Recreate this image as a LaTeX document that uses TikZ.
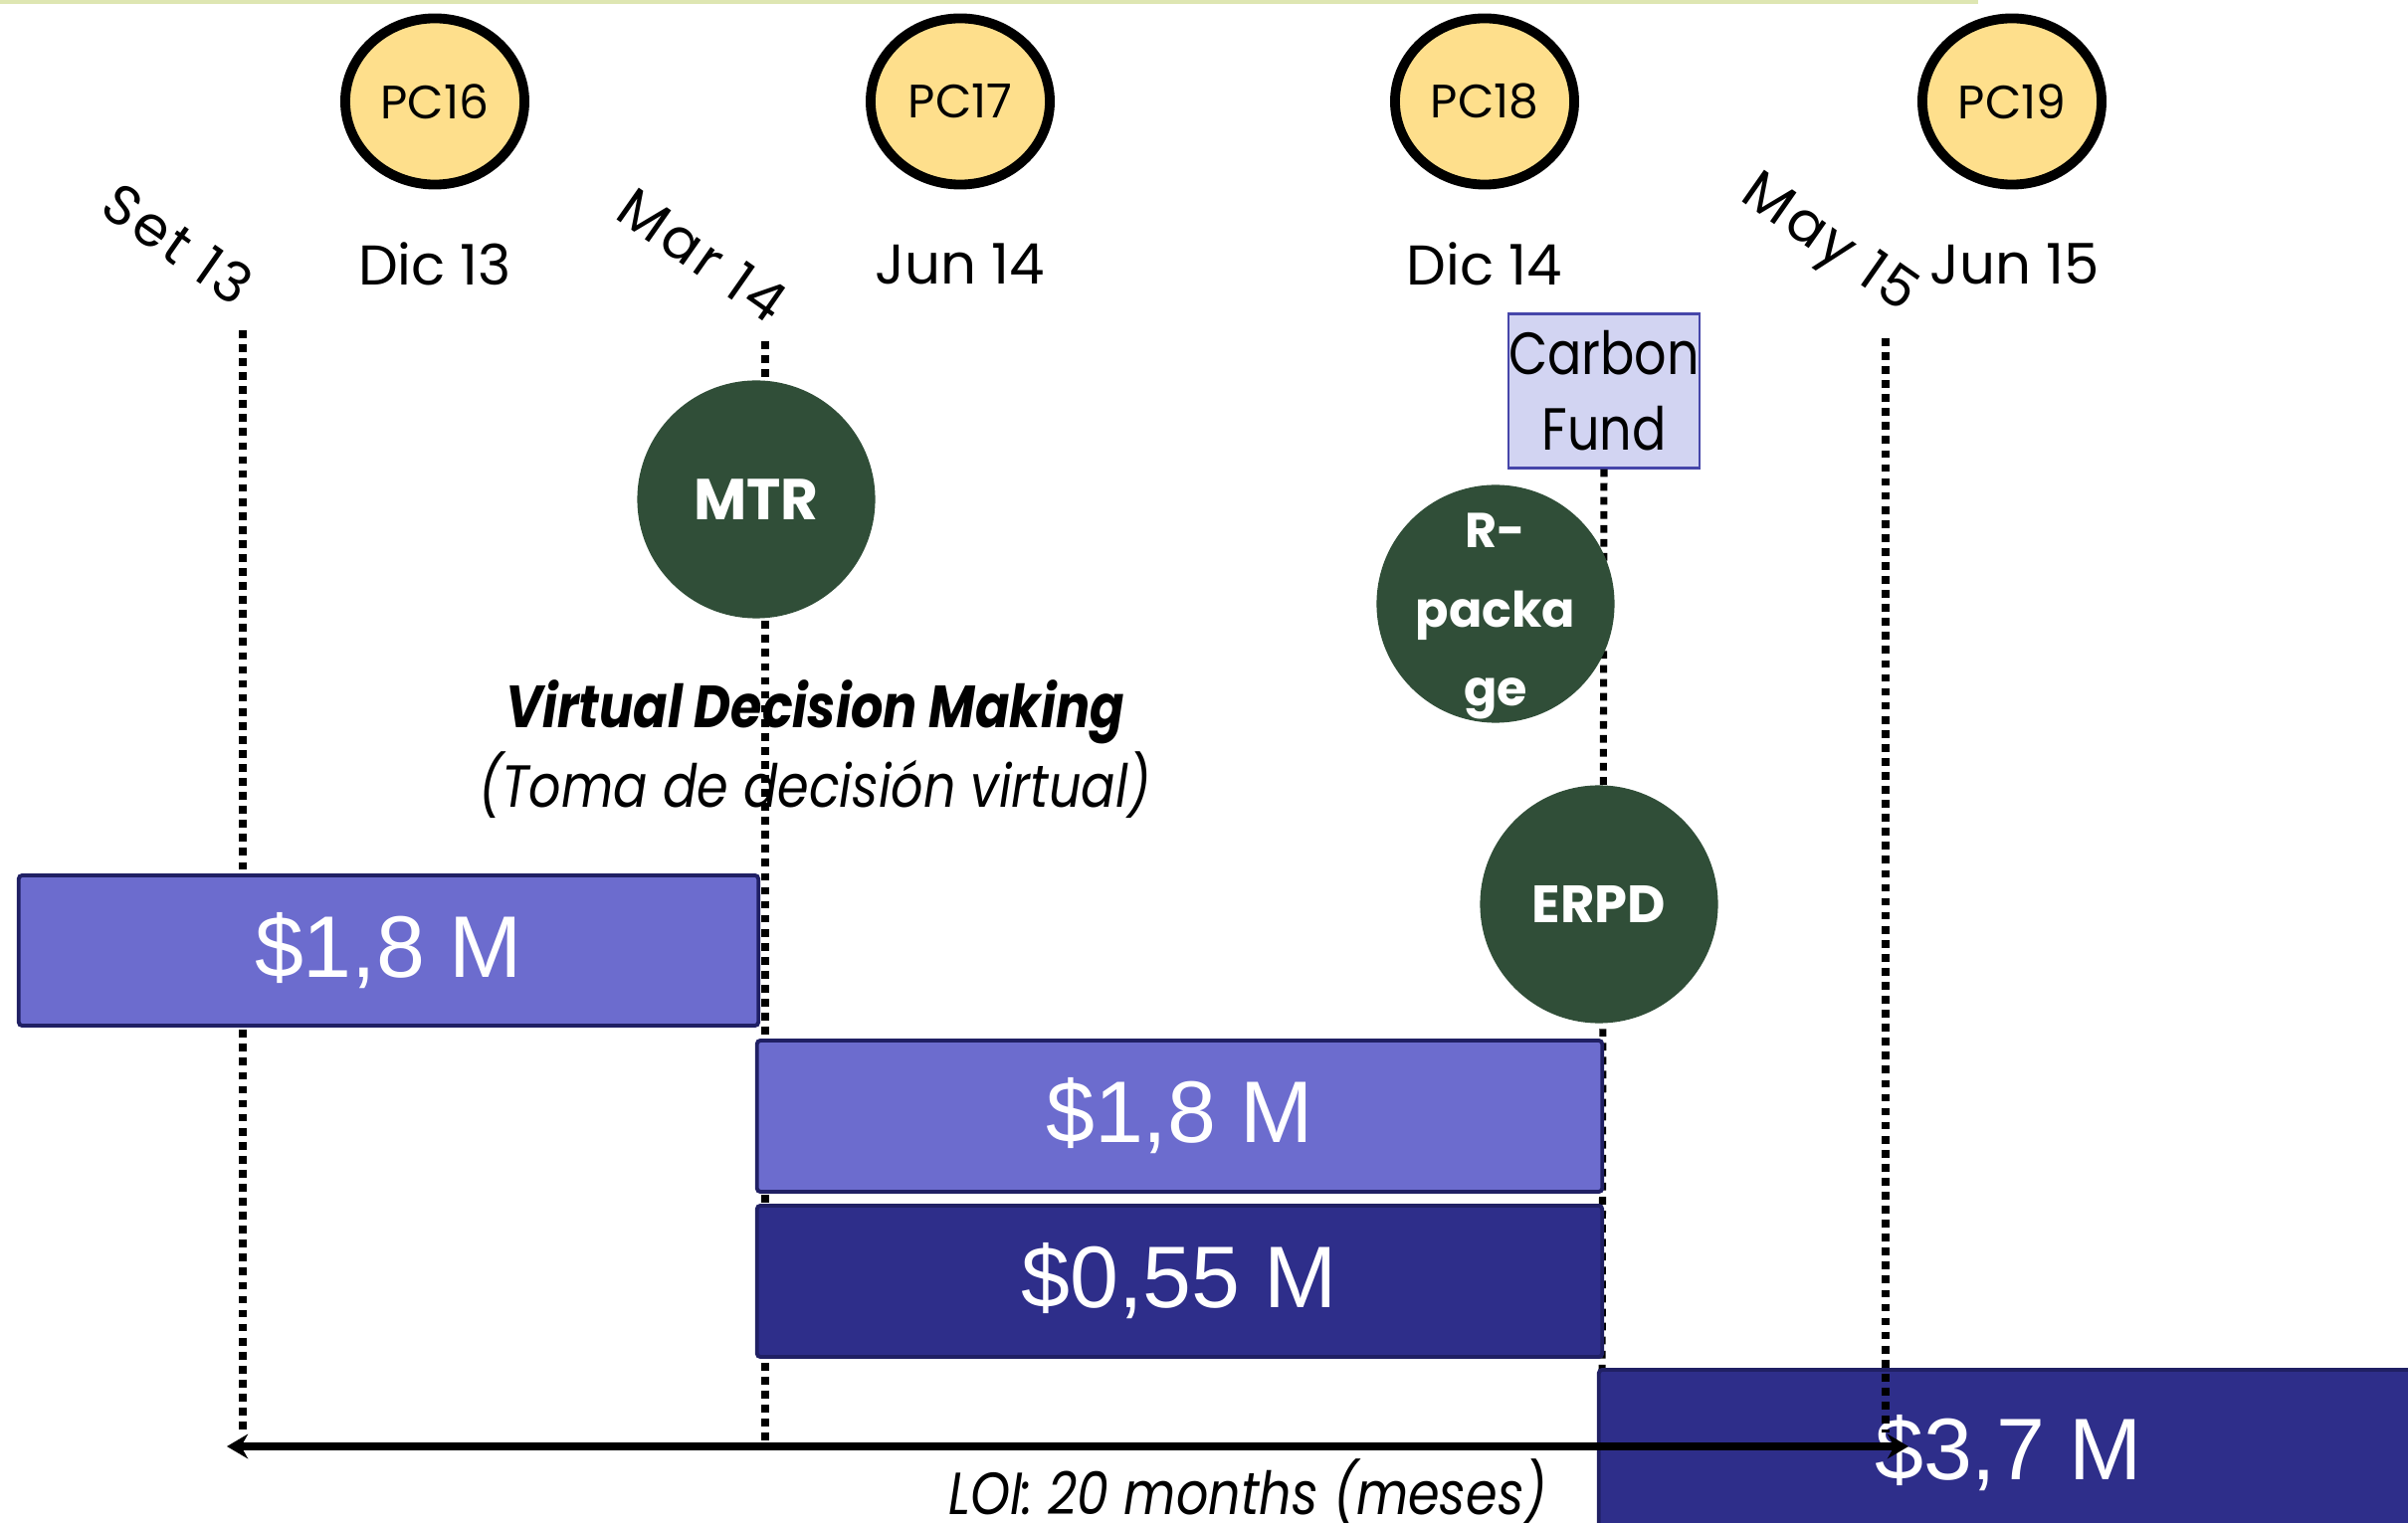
\documentclass[tikz,border=0pt]{standalone}
\usepackage{fontspec}
\setmainfont{Poppins}
\newfontfamily\narrowfont[FakeStretch=0.85]{Poppins}
\newfontfamily\spacedfont[LetterSpace=6]{Poppins}
\newfontfamily\barfont{Liberation Sans}
\usetikzlibrary{arrows.meta,shapes.geometric}

\definecolor{pcyellow}{RGB}{254,223,140}
\definecolor{mgreen}{RGB}{48,78,56}
\definecolor{cflav}{RGB}{210,212,242}
\definecolor{cfedge}{RGB}{70,70,170}
\definecolor{barlightfill}{RGB}{108,108,206}
\definecolor{bardarkfill}{RGB}{46,46,138}
\definecolor{baredge}{RGB}{32,32,100}
\definecolor{topgreen}{RGB}{222,230,178}

\begin{document}
\begin{tikzpicture}[x=0.01cm, y=-0.01cm,
    % Styles
    pcnode/.style={ellipse, draw=black, line width=2.8pt, fill=pcyellow, minimum width=1.8cm, minimum height=1.67cm, inner sep=0pt, font=\fontsize{13.4}{16}\selectfont},
    datelabel/.style={font=\fontsize{16}{19}\selectfont, inner sep=0pt},
    rotdate/.style={font=\spacedfont\fontsize{16}{19}\selectfont, inner sep=0pt, rotate=-35},
    milestone/.style={circle, fill=mgreen, text=white, minimum size=2.39cm, inner sep=0pt, align=center},
    fundbox/.style={draw=cfedge, fill=cflav, line width=0.6pt, minimum width=1.91cm, minimum height=1.55cm, inner sep=0pt, align=center, font=\narrowfont\fontsize{17}{21.6}\selectfont},
    barlight/.style={draw=baredge, fill=barlightfill, line width=1.1pt, rounded corners=1pt, text=white, inner sep=0pt, minimum height=1.51cm, font=\barfont\fontsize{25}{30}\selectfont},
    bardark/.style={barlight, fill=bardarkfill},
    timeline/.style={line width=2pt, dash pattern=on 2.2pt off 1.8pt},
    loiarrow/.style={{Stealth[length=6pt,width=7pt]}-{Stealth[length=6pt,width=7pt]}, line width=2pt},
    note/.style={font=\narrowfont\itshape\fontsize{17}{22.8}\selectfont, align=center, inner sep=0pt},
]
\useasboundingbox (0,0) rectangle (2420,1531);

% Top rule
\fill[topgreen] (0,0) rectangle (1988,4);

% Time marks
\coordinate (set13top) at (244,332);
\coordinate (set13bot) at (244,1443);
\coordinate (mar14top) at (769,343);
\coordinate (mar14bot) at (769,1448);
\coordinate (dic14bot) at (1610,1450);
\coordinate (may15top) at (1895,340);
\coordinate (may15bot) at (1895,1440);

\draw[timeline] (set13top) -- (set13bot);
\draw[timeline] (mar14top) -- (mar14bot);

% Partner committees
\node[pcnode] (pc16) at (437,102) {PC16};
\node[pcnode] (pc17) at (965,102) {PC17};
\node[pcnode] (pc18) at (1492,102) {PC18};
\node[pcnode] (pc19) at (2022,102) {PC19};

\node[datelabel] (dic13) at (437,265) {Dic 13};
\node[datelabel] (jun14) at (965,265) {Jun 14};
\node[datelabel] (dic14) at (1492,265) {Dic 14};
\node[datelabel] (jun15) at (2025,265) {Jun 15};

\node[rotdate] (set13) at (179,245) {Set 13};
\node[rotdate] (mar14) at (706,256) {Mar 14};
\node[rotdate] (may15) at (1837,247) {May 15};

% Carbon Fund and milestones
\node[fundbox] (cf) at (1612,393) {Carbon\\Fund};
\draw[timeline] (cf.south) -- (dic14bot);

\node[milestone, font=\bfseries\fontsize{16.5}{20}\selectfont] (mtr) at (760,502) {MTR};
\node[milestone, inner sep=-0.3cm, font=\bfseries\fontsize{14}{22.5}\selectfont] (rpkg) at (1503,607) {\rule{0pt}{17pt}R-\\packa\\ge};
\node[milestone, font=\bfseries\fontsize{15}{20}\selectfont] (erpd) at (1607,909) {ERPD};

\node[note] (vdm) at (819,753) {{\bfseries Virtual Decision Making}\\(Toma de decisión virtual)};

% Funding bars
\node[barlight, minimum width=7.43cm] (bar1) at (390.5,955.5) {\$1,8 M};
\node[barlight, minimum width=8.49cm, minimum height=1.52cm] (bar2) at (1185.5,1122) {\$1,8 M};
\node[bardark, minimum width=8.49cm, minimum height=1.52cm] (bar3) at (1185.5,1288) {\$0,55 M};
\node[bardark, minimum width=8.23cm, minimum height=1.68cm] (bar4) at (2018.5,1461) {\$3,7 M};

\draw[timeline] (may15top) -- (may15bot);

% LOI span
\coordinate (loiL) at (228,1454);
\coordinate (loiR) at (1918,1454);
\draw[loiarrow] (loiL) -- (loiR);
\node[note] (loi) at (1254,1500) {LOI: 20 months (meses)};

\end{tikzpicture}
\end{document}
